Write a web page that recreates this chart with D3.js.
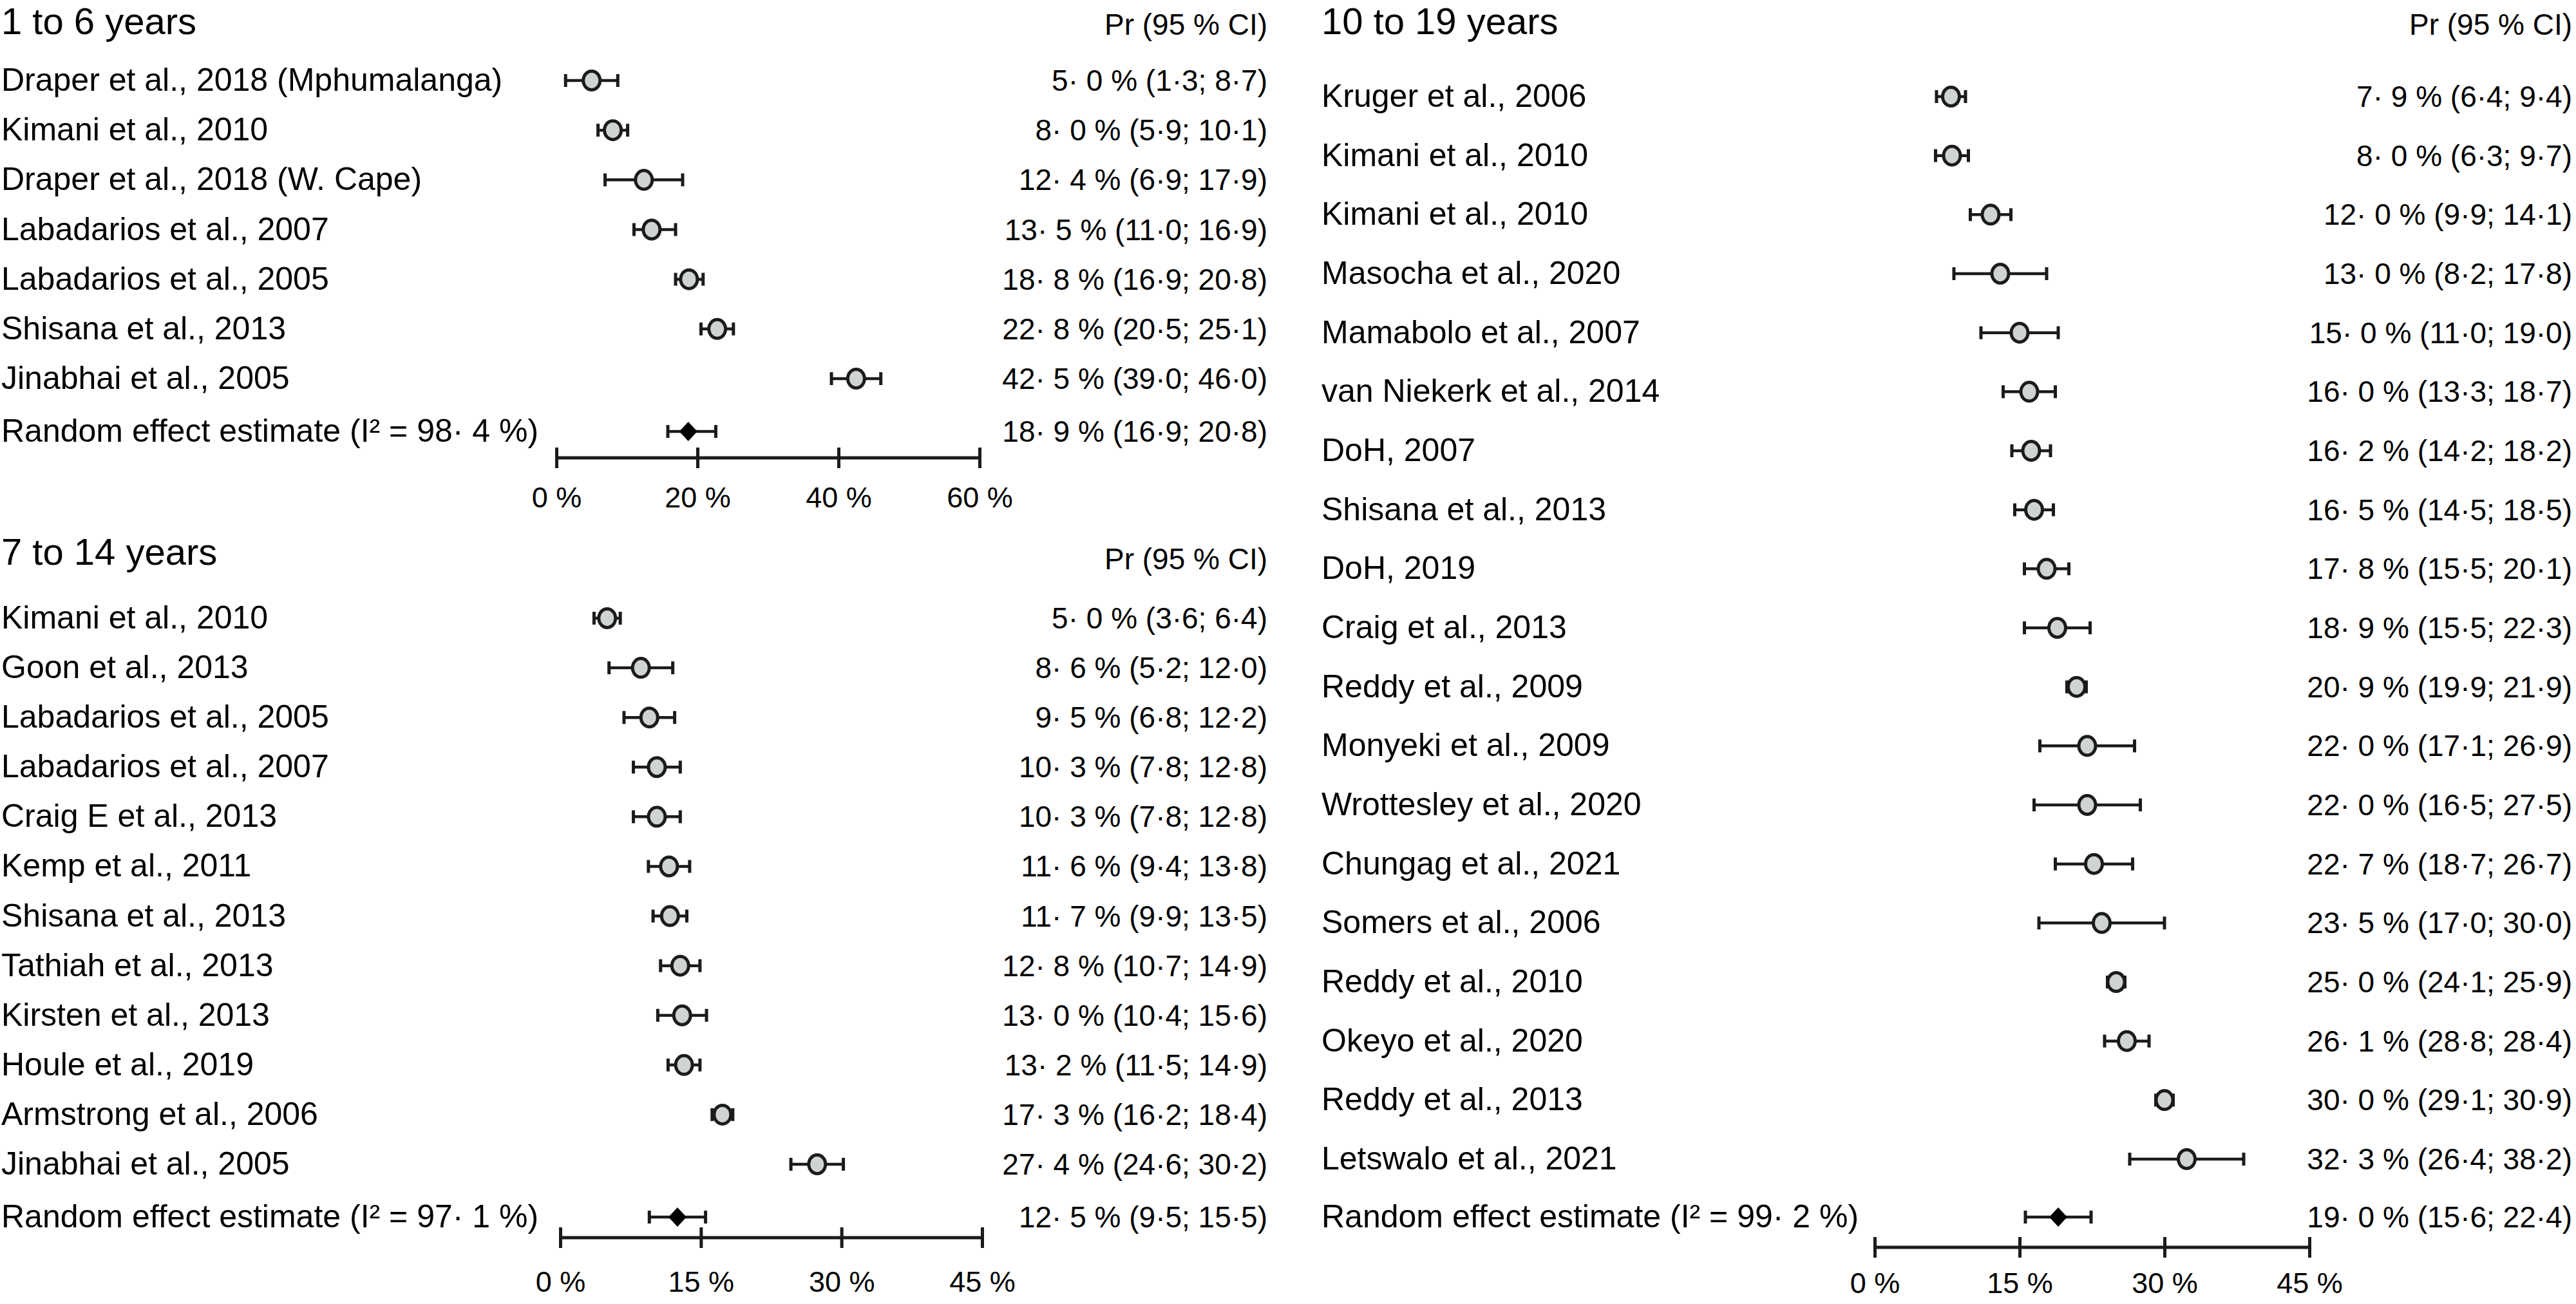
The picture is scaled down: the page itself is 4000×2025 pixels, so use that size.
<!DOCTYPE html>
<html><head><meta charset="utf-8">
<script src="https://cdn.jsdelivr.net/npm/d3@7"></script>
<style>html,body{margin:0;padding:0;background:#fff;}svg{display:block;}</style>
</head><body>
<script>
// ---------- DATA ----------
const titles = ["1 to 6 years", "7 to 14 years", "10 to 19 years"];
const ciHeader = "Pr (95 % CI)";

// Panel A: 1 to 6 years
const studiesA = ["Draper et al., 2018 (Mphumalanga)", "Kimani et al., 2010", "Draper et al., 2018 (W. Cape)",
  "Labadarios et al., 2007", "Labadarios et al., 2005", "Shisana et al., 2013", "Jinabhai et al., 2005"];
const estA = [5.0, 8.0, 12.4, 13.5, 18.8, 22.8, 42.5];
const lowA = [1.3, 5.9, 6.9, 11.0, 16.9, 20.5, 39.0];
const highA = [8.7, 10.1, 17.9, 16.9, 20.8, 25.1, 46.0];
const textA = ["5· 0 % (1·3; 8·7)", "8· 0 % (5·9; 10·1)", "12· 4 % (6·9; 17·9)", "13· 5 % (11·0; 16·9)",
  "18· 8 % (16·9; 20·8)", "22· 8 % (20·5; 25·1)", "42· 5 % (39·0; 46·0)"];
const pooledA = {label: "Random effect estimate (I² = 98· 4 %)", est: 18.7, low: 15.8, high: 22.6, text: "18· 9 % (16·9; 20·8)"};
const ticksA = [0, 20, 40, 60];

// Panel B: 7 to 14 years
const studiesB = ["Kimani et al., 2010", "Goon et al., 2013", "Labadarios et al., 2005", "Labadarios et al., 2007",
  "Craig E et al., 2013", "Kemp et al., 2011", "Shisana et al., 2013", "Tathiah et al., 2013",
  "Kirsten et al., 2013", "Houle et al., 2019", "Armstrong et al., 2006", "Jinabhai et al., 2005"];
const estB = [5.0, 8.6, 9.5, 10.3, 10.3, 11.6, 11.7, 12.8, 13.0, 13.2, 17.3, 27.4];
const lowB = [3.6, 5.2, 6.8, 7.8, 7.8, 9.4, 9.9, 10.7, 10.4, 11.5, 16.2, 24.6];
const highB = [6.4, 12.0, 12.2, 12.8, 12.8, 13.8, 13.5, 14.9, 15.6, 14.9, 18.4, 30.2];
const textB = ["5· 0 % (3·6; 6·4)", "8· 6 % (5·2; 12·0)", "9· 5 % (6·8; 12·2)", "10· 3 % (7·8; 12·8)",
  "10· 3 % (7·8; 12·8)", "11· 6 % (9·4; 13·8)", "11· 7 % (9·9; 13·5)", "12· 8 % (10·7; 14·9)",
  "13· 0 % (10·4; 15·6)", "13· 2 % (11·5; 14·9)", "17· 3 % (16·2; 18·4)", "27· 4 % (24·6; 30·2)"];
const pooledB = {label: "Random effect estimate (I² = 97· 1 %)", est: 12.5, low: 9.5, high: 15.5, text: "12· 5 % (9·5; 15·5)"};
const ticksB = [0, 15, 30, 45];

// Panel C: 10 to 19 years
const studiesC = ["Kruger et al., 2006", "Kimani et al., 2010", "Kimani et al., 2010", "Masocha et al., 2020",
  "Mamabolo et al., 2007", "van Niekerk et al., 2014", "DoH, 2007", "Shisana et al., 2013", "DoH, 2019",
  "Craig et al., 2013", "Reddy et al., 2009", "Monyeki et al., 2009", "Wrottesley et al., 2020",
  "Chungag et al., 2021", "Somers et al., 2006", "Reddy et al., 2010", "Okeyo et al., 2020",
  "Reddy et al., 2013", "Letswalo et al., 2021"];
const estC = [7.9, 8.0, 12.0, 13.0, 15.0, 16.0, 16.2, 16.5, 17.8, 18.9, 20.9, 22.0, 22.0, 22.7, 23.5, 25.0, 26.1, 30.0, 32.3];
const lowC = [6.4, 6.3, 9.9, 8.2, 11.0, 13.3, 14.2, 14.5, 15.5, 15.5, 19.9, 17.1, 16.5, 18.7, 17.0, 24.1, 23.8, 29.1, 26.4];
const highC = [9.4, 9.7, 14.1, 17.8, 19.0, 18.7, 18.2, 18.5, 20.1, 22.3, 21.9, 26.9, 27.5, 26.7, 30.0, 25.9, 28.4, 30.9, 38.2];
const textC = ["7· 9 % (6·4; 9·4)", "8· 0 % (6·3; 9·7)", "12· 0 % (9·9; 14·1)", "13· 0 % (8·2; 17·8)",
  "15· 0 % (11·0; 19·0)", "16· 0 % (13·3; 18·7)", "16· 2 % (14·2; 18·2)", "16· 5 % (14·5; 18·5)",
  "17· 8 % (15·5; 20·1)", "18· 9 % (15·5; 22·3)", "20· 9 % (19·9; 21·9)", "22· 0 % (17·1; 26·9)",
  "22· 0 % (16·5; 27·5)", "22· 7 % (18·7; 26·7)", "23· 5 % (17·0; 30·0)", "25· 0 % (24·1; 25·9)",
  "26· 1 % (28·8; 28·4)", "30· 0 % (29·1; 30·9)", "32· 3 % (26·4; 38·2)"];
const pooledC = {label: "Random effect estimate (I² = 99· 2 %)", est: 19.0, low: 15.6, high: 22.4, text: "19· 0 % (15·6; 22·4)"};
const ticksC = [0, 15, 30, 45];

// ---------- LAYOUT ----------
const W = 4000, H = 2025;
const FONT = "'Liberation Sans', Arial, Helvetica, sans-serif";
const INK = "#1b1b1b", MARK_FILL = "#cfd3d3";

const panels = [
  {title: titles[0], studies: studiesA, est: estA, low: lowA, high: highA, text: textA, pooled: pooledA, ticks: ticksA,
   labelX: 2, valueX: 1968, x0: 864, x1: 1521, titleY: 53, headY: 54, firstY: 125, lastY: 588, pooledY: 670, axisY: 711, tickLabelY: 788},
  {title: titles[1], studies: studiesB, est: estB, low: lowB, high: highB, text: textB, pooled: pooledB, ticks: ticksB,
   labelX: 2, valueX: 1968, x0: 870, x1: 1525, titleY: 877, headY: 884, firstY: 960, lastY: 1808, pooledY: 1890, axisY: 1922, tickLabelY: 2006},
  {title: titles[2], studies: studiesC, est: estC, low: lowC, high: highC, text: textC, pooled: pooledC, ticks: ticksC,
   labelX: 2052, valueX: 3994, x0: 2911, x1: 3586, titleY: 53, headY: 54, firstY: 150, lastY: 1800, pooledY: 1890, axisY: 1937, tickLabelY: 2008}
];

const svg = d3.select("body").append("svg").attr("width", W).attr("height", H)
  .attr("font-family", FONT);
svg.append("rect").attr("width", W).attr("height", H).attr("fill", "#fff");

panels.forEach(p => {
  const g = svg.append("g");
  const tmax = p.ticks[p.ticks.length - 1];
  const x = d3.scaleLinear().domain([0, tmax]).range([p.x0, p.x1]);
  const idx = d3.range(p.studies.length);
  const y = d3.scalePoint().domain(idx).range([p.firstY, p.lastY]);

  // title and header
  g.append("text").attr("x", p.labelX).attr("y", p.titleY).attr("font-size", 58).attr("fill", "#000").text(p.title);
  g.append("text").attr("x", p.valueX).attr("y", p.headY).attr("font-size", 46).attr("text-anchor", "end").attr("fill", "#000").text(ciHeader);

  // rows
  const rows = idx.map(i => ({label: p.studies[i], est: p.est[i], low: p.low[i], high: p.high[i], text: p.text[i], y: y(i)}));

  g.selectAll("text.lab").data(rows).join("text").attr("class", "lab")
    .attr("x", p.labelX).attr("y", d => d.y + 16).attr("font-size", 50).attr("fill", "#000").text(d => d.label);
  g.selectAll("text.val").data(rows).join("text").attr("class", "val")
    .attr("x", p.valueX).attr("y", d => d.y + 16).attr("font-size", 46).attr("text-anchor", "end").attr("fill", "#000").text(d => d.text);

  // error bars
  g.selectAll("line.ci").data(rows).join("line").attr("class", "ci")
    .attr("x1", d => x(d.low)).attr("x2", d => x(d.high)).attr("y1", d => d.y).attr("y2", d => d.y)
    .attr("stroke", INK).attr("stroke-width", 4.5);
  ["low", "high"].forEach(k => {
    g.selectAll("line.cap" + k).data(rows).join("line").attr("class", "cap" + k)
      .attr("x1", d => x(d[k])).attr("x2", d => x(d[k])).attr("y1", d => d.y - 10).attr("y2", d => d.y + 10)
      .attr("stroke", INK).attr("stroke-width", 5);
  });
  // markers
  g.selectAll("ellipse.pt").data(rows).join("ellipse").attr("class", "pt")
    .attr("cx", d => x(d.est)).attr("cy", d => d.y).attr("rx", 13).attr("ry", 14.5)
    .attr("fill", MARK_FILL).attr("stroke", INK).attr("stroke-width", 5);

  // pooled estimate
  const pd = p.pooled, py = p.pooledY;
  g.append("text").attr("x", p.labelX).attr("y", py + 16).attr("font-size", 50).attr("fill", "#000").text(pd.label);
  g.append("text").attr("x", p.valueX).attr("y", py + 16).attr("font-size", 46).attr("text-anchor", "end").attr("fill", "#000").text(pd.text);
  g.append("line").attr("x1", x(pd.low)).attr("x2", x(pd.high)).attr("y1", py).attr("y2", py).attr("stroke", INK).attr("stroke-width", 4.5);
  [pd.low, pd.high].forEach(v => g.append("line").attr("x1", x(v)).attr("x2", x(v)).attr("y1", py - 10).attr("y2", py + 10)
    .attr("stroke", INK).attr("stroke-width", 5));
  const cx = x(pd.est);
  g.append("path").attr("d", `M${cx - 14},${py} L${cx},${py - 15} L${cx + 14},${py} L${cx},${py + 15} Z`).attr("fill", "#000");

  // axis
  const axis = d3.axisBottom(x).tickValues(p.ticks).tickSize(0).tickFormat(d => d + " %");
  const ag = g.append("g").attr("transform", `translate(0,${p.axisY})`).call(axis);
  ag.select(".domain").remove();
  ag.selectAll(".tick text").attr("font-size", 45).attr("font-family", FONT).attr("fill", "#000")
    .attr("dy", null).attr("y", p.tickLabelY - p.axisY);
  ag.append("line").attr("x1", x(0)).attr("x2", x(tmax)).attr("y1", 0).attr("y2", 0).attr("stroke", INK).attr("stroke-width", 5);
  ag.selectAll(".tick").append("line").attr("x1", 0).attr("x2", 0).attr("y1", -16).attr("y2", 16)
    .attr("stroke", INK).attr("stroke-width", 5);
});
</script>
</body></html>
